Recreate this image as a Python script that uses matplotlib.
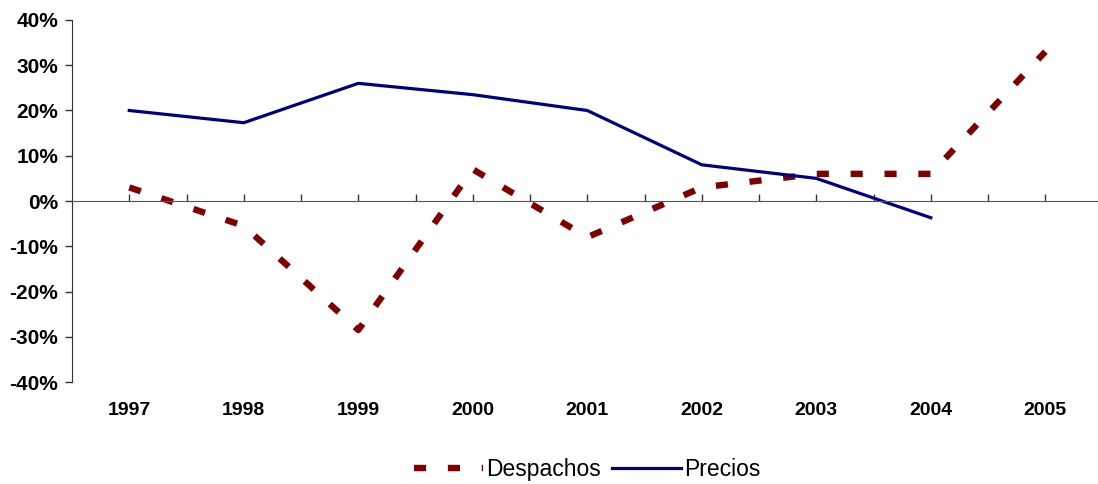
import numpy as np
import matplotlib
matplotlib.use("Agg")
import matplotlib.pyplot as plt
from matplotlib.ticker import PercentFormatter

plt.rcParams['font.family'] = ['Liberation Sans', 'DejaVu Sans']
plt.rcParams['axes.unicode_minus'] = False

years = ['1997', '1998', '1999', '2000', '2001', '2002', '2003', '2004', '2005']
despachos = [3.0, -5.5, -28.5, 7.0, -8.0, 3.0, 6.0, 6.0, 33.0]
precios = [20.0, 17.3, 26.0, 23.5, 20.0, 8.0, 5.0, -3.7]

x = np.arange(len(years))

fig = plt.figure(figsize=(10.98, 4.84), dpi=100)
ax = fig.add_axes([0.0656, 0.2107, 0.9344, 0.748])

ax.plot(x, despachos, color='#800000', lw=4.6, dashes=(1.9, 3.4),
        solid_capstyle='butt', label='Despachos')
ax.plot(x[:len(precios)], precios, color='#000080', lw=2.3, label='Precios')

ax.set_xlim(-0.5, len(years) - 0.54)
ax.set_ylim(-40, 40)
ax.set_yticks(np.arange(-40, 41, 10))
ax.yaxis.set_major_formatter(PercentFormatter(decimals=0))
for lbl in ax.get_yticklabels():
    lbl.set_fontweight('bold')
ax.tick_params(axis='y', labelsize=15, length=5, width=1, pad=5, color='#333333')

# horizontal axis sits on zero, with ticks between and on the categories
ax.spines['bottom'].set_position(('data', 0))
ax.spines['bottom'].set_color('#555555')
ax.spines['left'].set_color('#333333')
ax.spines['top'].set_visible(False)
ax.spines['right'].set_visible(False)
ax.set_xticks(np.arange(0, len(years) - 0.5, 0.5))
ax.set_xticklabels([])
ax.tick_params(axis='x', direction='in', length=5, width=1, color='#333333')

for xi, yr in zip(x, years):
    ax.text(xi, -0.08, yr, transform=ax.get_xaxis_transform(), ha='center',
            va='center', fontsize=14, fontweight='bold')

fig.legend(loc='center', bbox_to_anchor=(0.535, 0.029), ncol=2, frameon=False,
           fontsize=16.5, handlelength=3.0, handletextpad=0.15, columnspacing=0.5)

fig.savefig('out.png', dpi=100)
